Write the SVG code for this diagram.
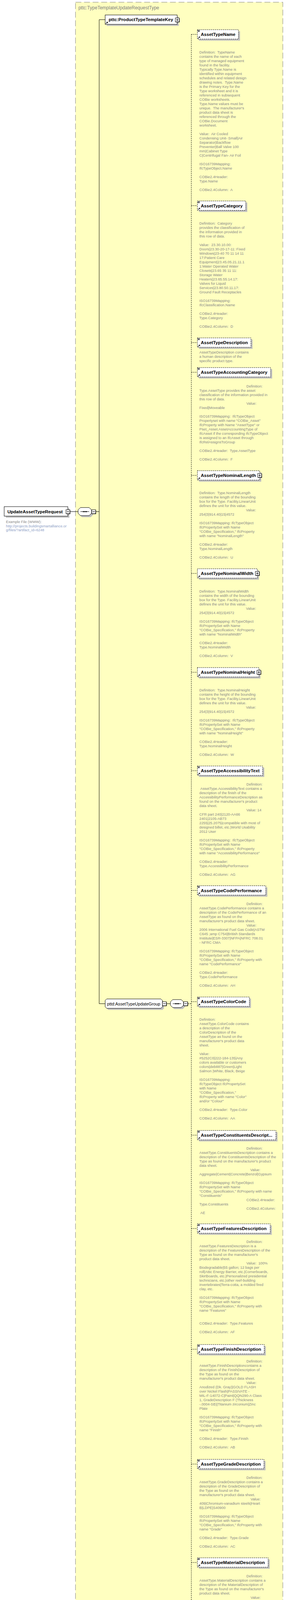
<svg xmlns="http://www.w3.org/2000/svg" width="735" height="5121" viewBox="0 0 735 5121">
<style>
.d{font-family:"Liberation Sans",Arial,sans-serif;font-size:9.25px;fill:#888;white-space:pre}
.u{fill:#8ea0c6}
.n{font-family:"Liberation Sans",Arial,sans-serif;font-size:11.5px;font-weight:bold;fill:#000;white-space:pre}
.g{font-family:"Liberation Sans",Arial,sans-serif;font-size:10.8px;fill:#000}
.t{font-family:"Liberation Sans",Arial,sans-serif;font-size:12px;fill:#808080}
.sh{fill:#c0c0c0}
.bx{fill:#fff;stroke:#000;stroke-width:1}
.bd{fill:#fff;stroke:#000;stroke-width:1;stroke-dasharray:3,2}
.ln{stroke:#000;stroke-width:1;fill:none}
.dl{stroke:#000;stroke-width:1;fill:none;stroke-dasharray:3,2}
</style>
<defs>
<g id="eq"><path d="M1,1.8H6M1,3.3H6M1,4.8H6" stroke="#000" stroke-width="0.9"/></g>
<g id="ar"><path d="M1.5,22.5L4.8,19.2" stroke="#000" stroke-width="1.1"/><path d="M3,17.8H6.8V21.6Z" fill="#000"/></g>
<g id="mn"><rect x="-4" y="-4" width="10" height="10" fill="#000"/><rect x="-5" y="-5" width="10" height="10" fill="#fff" stroke="#000"/><path d="M-3,0H3" stroke="#000" stroke-width="1.2"/></g>
<g id="pl"><rect x="-4" y="-4" width="10" height="10" fill="#000"/><rect x="-5" y="-5" width="10" height="10" fill="#fff" stroke="#000"/><path d="M-3,0H3M0,-3V3" stroke="#000" stroke-width="1.2"/></g>
</defs>

<rect x="193.3" y="5.7" width="531" height="5109.7" fill="#ffffc0" stroke="#808080" stroke-width="1" stroke-dasharray="15,7"/>
<text class="t" x="200.7" y="23.5">pttc:TypeTemplateUpdateRequestType</text>

<g id="connectors">
<path class="ln" d="M179,1309.7H200M245.7,1309.7H254M254,50.3V2569.5M254,50.3H269.3M254,2569.5H269.3M426,2569.5H436.3"/>
<path class="dl" d="M481,2569.5H490M490,88V5053"/>
<path class="dl" d="M490,88H505.5M490,526.5H505.5M490,877H505.5M490,953H505.5M490,1217H505.5M490,1468H505.5M490,1721H505.5M490,1973H505.5M490,2279.5H505.5M490,2564.3H505.5M490,2906H505.5M490,3145H505.5M490,3454H505.5M490,3748H505.5M490,4000H505.5M490,4264H505.5M490,4504H505.5M490,4757H505.5M490,5053H505.5"/>
</g>

<g id="root">
<rect class="sh" x="14.7" y="1301" width="163" height="24.3"/>
<rect class="bx" x="10.7" y="1297" width="163" height="24.3"/>
<use href="#mn" x="174" y="1310"/>
<text class="n" x="19" y="1313.6">UpdateAssetTypeRequest</text>
<text class="d"><tspan x="15.3" y="1339">Example File (WWW):</tspan><tspan class="u" x="15.3" y="1349.5">http://projects.buildingsmartalliance.or</tspan><tspan class="u" x="15.3" y="1360">g/files/?artifact_id=6248</tspan></text>
</g>

<g id="seq1">
<path class="sh" d="M210,1303.3H232.3L238.3,1309.3V1318L232.3,1324H210L204,1318V1309.3Z"/>
<path class="bx" d="M206,1299.3H228.3L234.3,1305.3V1314L228.3,1320H206L200,1314V1305.3Z"/>
<path class="ln" d="M206,1309.7H228.3"/>
<rect x="212.3" y="1308.5" width="2.6" height="2.6"/><rect x="216.1" y="1308.5" width="2.6" height="2.6"/><rect x="219.9" y="1308.5" width="2.6" height="2.6"/>
<use href="#mn" x="240" y="1310"/>
</g>

<g id="ProductTypeTemplateKey">
<rect class="sh" x="273.3" y="42.3" width="184.4" height="24"/>
<rect class="bx" x="269.3" y="38.3" width="184.4" height="24"/>
<use href="#ar" x="269.3" y="38.3"/>
<use href="#pl" x="454" y="51"/>
<text class="n" x="278.3" y="54.4">pttc:ProductTypeTemplateKey</text>
</g>

<g id="AssetTypeUpdateGroup">
<path class="sh" d="M277.3,2561.3H416L420,2565.3V2581.3L416,2585.3H277.3L273.3,2581.3V2565.3Z"/>
<path class="bx" d="M273.3,2557.3H412L416,2561.3V2577.3L412,2581.3H273.3L269.3,2577.3V2561.3Z"/>
<use href="#mn" x="421" y="2569.5"/>
<text class="g" x="274.3" y="2573.5">pttd:AssetTypeUpdateGroup</text>
</g>

<g id="seq2">
<path class="sh" d="M446.3,2563H468L474,2569V2577.3L468,2583.3H446.3L440.3,2577.3V2569Z"/>
<path class="bx" d="M442.3,2559H464L470,2565V2573.3L464,2579.3H442.3L436.3,2573.3V2565Z"/>
<path class="ln" d="M442.3,2569.5H464"/>
<rect x="448.2" y="2568.2" width="2.6" height="2.6"/><rect x="452" y="2568.2" width="2.6" height="2.6"/><rect x="455.8" y="2568.2" width="2.6" height="2.6"/>
<use href="#mn" x="475.5" y="2569.5"/>
</g>

<g id="AssetTypeName">
<rect class="sh" x="509.5" y="80" width="105.2" height="24"/>
<rect class="bd" x="505.5" y="76" width="105.2" height="24"/>
<use href="#eq" x="505.5" y="76"/><use href="#ar" x="505.5" y="76"/>
<text class="n" x="514.3" y="92.1">AssetTypeName</text>
<text class="d"><tspan x="510.5" y="137">Definition:  TypeName</tspan><tspan x="510.5" y="148">contains the name of each</tspan><tspan x="510.5" y="159">type of managed equipment</tspan><tspan x="510.5" y="170">found in the facility.</tspan><tspan x="510.5" y="181">Typically Type.Name is</tspan><tspan x="510.5" y="192">identified within equipment</tspan><tspan x="510.5" y="203">schedules and related design</tspan><tspan x="510.5" y="214">drawing notes.  Type.Name</tspan><tspan x="510.5" y="225">is the Primary Key for the</tspan><tspan x="510.5" y="236">Type worksheet and it is</tspan><tspan x="510.5" y="247">referenced in subsequent</tspan><tspan x="510.5" y="258">COBie worksheets.</tspan><tspan x="510.5" y="269">Type.Name values must be</tspan><tspan x="510.5" y="280">unique.  The manufacturer's</tspan><tspan x="510.5" y="291">product data sheet is</tspan><tspan x="510.5" y="302">referenced through the</tspan><tspan x="510.5" y="313">COBie.Document</tspan><tspan x="510.5" y="324">worksheet.</tspan><tspan x="510.5" y="346">Value:  Air Cooled</tspan><tspan x="510.5" y="357">Condensing Unit- Small|Air</tspan><tspan x="510.5" y="368">Separator|Backflow</tspan><tspan x="510.5" y="379">Preventer|Ball Valve 100</tspan><tspan x="510.5" y="390">mm|Cabinet Type</tspan><tspan x="510.5" y="401">C|Centrifugal Fan- Air Foil</tspan><tspan x="510.5" y="423">ISO16739Mapping:</tspan><tspan x="510.5" y="434">IfcTypeObject.Name</tspan><tspan x="510.5" y="456">COBie2.4Header:</tspan><tspan x="510.5" y="467">Type.Name</tspan><tspan x="510.5" y="489">COBie2.4Column:  A</tspan></text>
</g>

<g id="AssetTypeCategory">
<rect class="sh" x="509.5" y="518.5" width="123.8" height="24"/>
<rect class="bd" x="505.5" y="514.5" width="123.8" height="24"/>
<use href="#eq" x="505.5" y="514.5"/><use href="#ar" x="505.5" y="514.5"/>
<text class="n" x="514.3" y="530.6">AssetTypeCategory</text>
<text class="d"><tspan x="510.5" y="575.3">Definition:  Category</tspan><tspan x="510.5" y="586.3">provides the classification of</tspan><tspan x="510.5" y="597.3">the information provided in</tspan><tspan x="510.5" y="608.3">this row of data.</tspan><tspan x="510.5" y="630.3">Value:  23.30.10.00:</tspan><tspan x="510.5" y="641.3">Doors|23.30-20-17-11: Fixed</tspan><tspan x="510.5" y="652.3">Windows|23-40 70 11 14 11</tspan><tspan x="510.5" y="663.3">17:Patient Care</tspan><tspan x="510.5" y="674.3">Equipment|23.45.05.21.11.1</tspan><tspan x="510.5" y="685.3">1:Water Operated Water</tspan><tspan x="510.5" y="696.3">Closets|23.65 35 11 11:</tspan><tspan x="510.5" y="707.3">Storage Water</tspan><tspan x="510.5" y="718.3">Heaters|23.65.55.14.17:</tspan><tspan x="510.5" y="729.3">Valves for Liquid</tspan><tspan x="510.5" y="740.3">Services|23.80.50.11.17:</tspan><tspan x="510.5" y="751.3">Ground Fault Receptacles</tspan><tspan x="510.5" y="773.3">ISO16739Mapping:</tspan><tspan x="510.5" y="784.3">IfcClassification.Name</tspan><tspan x="510.5" y="806.3">COBie2.4Header:</tspan><tspan x="510.5" y="817.3">Type.Category</tspan><tspan x="510.5" y="839.3">COBie2.4Column:  D</tspan></text>
</g>

<g id="AssetTypeDescription">
<rect class="sh" x="509.5" y="869" width="137.2" height="24"/>
<rect class="bd" x="505.5" y="865" width="137.2" height="24"/>
<use href="#eq" x="505.5" y="865"/><use href="#ar" x="505.5" y="865"/>
<text class="n" x="514.3" y="881.1">AssetTypeDescription</text>
<text class="d"><tspan x="510.5" y="905.3">AssetTypeDescription contains</tspan><tspan x="510.5" y="916.3">a human description of the</tspan><tspan x="510.5" y="927.3">specific product type.</tspan></text>
</g>

<g id="AssetTypeAccountingCategory">
<rect class="sh" x="509.5" y="945" width="187.5" height="24"/>
<rect class="bd" x="505.5" y="941" width="187.5" height="24"/>
<use href="#eq" x="505.5" y="941"/><use href="#ar" x="505.5" y="941"/>
<text class="n" x="514.3" y="957.1">AssetTypeAccountingCategory</text>
<text class="d"><tspan x="631" y="992.3">Definition:</tspan><tspan x="510.5" y="1003.3">Type.AssetType provides the asset</tspan><tspan x="510.5" y="1014.3">classification of the information provided in</tspan><tspan x="510.5" y="1025.3">this row of data.</tspan><tspan x="631" y="1036.3">Value:</tspan><tspan x="510.5" y="1047.3">Fixed|Moveable</tspan><tspan x="510.5" y="1069.3">ISO16739Mapping:  IfcTypeObject</tspan><tspan x="510.5" y="1080.3">Propertyset with name "COBie_Asset"</tspan><tspan x="510.5" y="1091.3">IfcProperty with Name "AssetType" or</tspan><tspan x="510.5" y="1102.3">Pset_Asset.AssetAccountingType of</tspan><tspan x="510.5" y="1113.3">IfcAsset if the corresponding IfcTypeObject</tspan><tspan x="510.5" y="1124.3">is assigned to an IfcAsset through</tspan><tspan x="510.5" y="1135.3">IfcRelAssignsToGroup</tspan><tspan x="510.5" y="1157.3">COBie2.4Header:  Type.AssetType</tspan><tspan x="510.5" y="1179.3">COBie2.4Column:  F</tspan></text>
</g>

<g id="AssetTypeNominalLength">
<rect class="sh" x="509.5" y="1209" width="159.5" height="24"/>
<rect class="bd" x="505.5" y="1205" width="159.5" height="24"/>
<use href="#ar" x="505.5" y="1205"/><use href="#pl" x="665" y="1217"/>
<text class="n" x="514.3" y="1221.1">AssetTypeNominalLength</text>
<text class="d"><tspan x="510.5" y="1265.3">Definition:  Type.NominalLength</tspan><tspan x="510.5" y="1276.3">contains the length of the bounding</tspan><tspan x="510.5" y="1287.3">box for the Type. Facility.LinearUnit</tspan><tspan x="510.5" y="1298.3">defines the unit for this value.</tspan><tspan x="630" y="1309.3">Value:</tspan><tspan x="510.5" y="1320.3">254|3|914.40|15|4572</tspan><tspan x="510.5" y="1342.3">ISO16739Mapping: IfcTypeObject</tspan><tspan x="510.5" y="1353.3">IfcPropertySet with Name</tspan><tspan x="510.5" y="1364.3">"COBie_Specification," IfcProperty</tspan><tspan x="510.5" y="1375.3">with name "NominalLength"</tspan><tspan x="510.5" y="1397.3">COBie2.4Header:</tspan><tspan x="510.5" y="1408.3">Type.NominalLength</tspan><tspan x="510.5" y="1430.3">COBie2.4Column:  U</tspan></text>
</g>

<g id="AssetTypeNominalWidth">
<rect class="sh" x="509.5" y="1460" width="153.5" height="24"/>
<rect class="bd" x="505.5" y="1456" width="153.5" height="24"/>
<use href="#ar" x="505.5" y="1456"/><use href="#pl" x="659" y="1468"/>
<text class="n" x="514.3" y="1472.1">AssetTypeNominalWidth</text>
<text class="d"><tspan x="510.5" y="1516.8">Definition:  Type.NominalWidth</tspan><tspan x="510.5" y="1527.8">contains the width of the bounding</tspan><tspan x="510.5" y="1538.8">box for the Type. Facility.LinearUnit</tspan><tspan x="510.5" y="1549.8">defines the unit for this value.</tspan><tspan x="630" y="1560.8">Value:</tspan><tspan x="510.5" y="1571.8">254|3|914.40|15|4572</tspan><tspan x="510.5" y="1593.8">ISO16739Mapping: IfcTypeObject</tspan><tspan x="510.5" y="1604.8">IfcPropertySet with Name</tspan><tspan x="510.5" y="1615.8">"COBie_Specification," IfcProperty</tspan><tspan x="510.5" y="1626.8">with name "NominalWidth"</tspan><tspan x="510.5" y="1648.8">COBie2.4Header:</tspan><tspan x="510.5" y="1659.8">Type.NominalWidth</tspan><tspan x="510.5" y="1681.8">COBie2.4Column:  V</tspan></text>
</g>

<g id="AssetTypeNominalHeight">
<rect class="sh" x="509.5" y="1713" width="157.5" height="24"/>
<rect class="bd" x="505.5" y="1709" width="157.5" height="24"/>
<use href="#ar" x="505.5" y="1709"/><use href="#pl" x="663" y="1721"/>
<text class="n" x="514.3" y="1725.1">AssetTypeNominalHeight</text>
<text class="d"><tspan x="510.5" y="1769.8">Definition:  Type.NominalHeight</tspan><tspan x="510.5" y="1780.8">contains the height of the bounding</tspan><tspan x="510.5" y="1791.8">box for the Type. Facility.LinearUnit</tspan><tspan x="510.5" y="1802.8">defines the unit for this value.</tspan><tspan x="630" y="1813.8">Value:</tspan><tspan x="510.5" y="1824.8">254|3|914.40|15|4572</tspan><tspan x="510.5" y="1846.8">ISO16739Mapping:  IfcTypeObject</tspan><tspan x="510.5" y="1857.8">IfcPropertySet with Name</tspan><tspan x="510.5" y="1868.8">"COBie_Specification," IfcProperty</tspan><tspan x="510.5" y="1879.8">with name "NominalHeight"</tspan><tspan x="510.5" y="1901.8">COBie2.4Header:</tspan><tspan x="510.5" y="1912.8">Type.NominalHeight</tspan><tspan x="510.5" y="1934.8">COBie2.4Column:  W</tspan></text>
</g>

<g id="AssetTypeAccessibilityText">
<rect class="sh" x="509.5" y="1965" width="167.2" height="24"/>
<rect class="bd" x="505.5" y="1961" width="167.2" height="24"/>
<use href="#eq" x="505.5" y="1961"/><use href="#ar" x="505.5" y="1961"/>
<text class="n" x="514.3" y="1977.1">AssetTypeAccessibilityText</text>
<text class="d"><tspan x="631" y="2010.8">Definition:</tspan><tspan x="513" y="2021.8">AssetType.AccessibilityText contains a</tspan><tspan x="510.5" y="2032.8">description of the finish of the</tspan><tspan x="510.5" y="2043.8">AccessibilityPerformanceDescription as</tspan><tspan x="510.5" y="2054.8">found on the manufacturer's product</tspan><tspan x="510.5" y="2065.8">data sheet.</tspan><tspan x="631" y="2076.8">Value: 14</tspan><tspan x="510.5" y="2087.8">CFR part 240|2120-AA66</tspan><tspan x="510.5" y="2098.8">2401|2105-AB73</tspan><tspan x="510.5" y="2109.8">2255|25.2075|compatible with most of</tspan><tspan x="510.5" y="2120.8">designed billet, etc.|World Usability</tspan><tspan x="510.5" y="2131.8">2012 User</tspan><tspan x="510.5" y="2153.8">ISO16739Mapping:  IfcTypeObject</tspan><tspan x="510.5" y="2164.8">IfcPropertySet with Name</tspan><tspan x="510.5" y="2175.8">"COBie_Specification," IfcProperty</tspan><tspan x="510.5" y="2186.8">with name "AccessibilityPerformance"</tspan><tspan x="510.5" y="2208.8">COBie2.4Header:</tspan><tspan x="510.5" y="2219.8">Type.AccessibilityPerformance</tspan><tspan x="510.5" y="2241.8">COBie2.4Column:  AG</tspan></text>
</g>

<g id="AssetTypeCodePerformance">
<rect class="sh" x="509.5" y="2271.5" width="175.2" height="24"/>
<rect class="bd" x="505.5" y="2267.5" width="175.2" height="24"/>
<use href="#eq" x="505.5" y="2267.5"/><use href="#ar" x="505.5" y="2267.5"/>
<text class="n" x="514.3" y="2283.6">AssetTypeCodePerformance</text>
<text class="d"><tspan x="631" y="2316.8">Definition:</tspan><tspan x="510.5" y="2327.8">AssetType.CodePerformance contains a</tspan><tspan x="510.5" y="2338.8">description of the CodePerformance of an</tspan><tspan x="510.5" y="2349.8">AssetType as found on the</tspan><tspan x="510.5" y="2360.8">manufacturer's product data sheet.</tspan><tspan x="631" y="2371.8">Value:</tspan><tspan x="510.5" y="2382.8">2006 International Fuel Gas Code|ASTM</tspan><tspan x="510.5" y="2393.8">C645 ;amp C754|British Standards</tspan><tspan x="510.5" y="2404.8">Institute|ESR-3307|NFPA|NFRC 708.01</tspan><tspan x="510.5" y="2415.8">- NFRC CMA</tspan><tspan x="510.5" y="2437.8">ISO16739Mapping: IfcTypeObject</tspan><tspan x="510.5" y="2448.8">IfcPropertySet with Name</tspan><tspan x="510.5" y="2459.8">"COBie_Specification," IfcProperty with</tspan><tspan x="510.5" y="2470.8">name "CodePerformance"</tspan><tspan x="510.5" y="2492.8">COBie2.4Header:</tspan><tspan x="510.5" y="2503.8">Type.CodePerformance</tspan><tspan x="510.5" y="2525.8">COBie2.4Column:  AH</tspan></text>
</g>

<g id="AssetTypeColorCode">
<rect class="sh" x="509.5" y="2556.3" width="133.2" height="24"/>
<rect class="bd" x="505.5" y="2552.3" width="133.2" height="24"/>
<use href="#eq" x="505.5" y="2552.3"/><use href="#ar" x="505.5" y="2552.3"/>
<text class="n" x="514.3" y="2568.4">AssetTypeColorCode</text>
<text class="d"><tspan x="510.5" y="2612.8">Definition:</tspan><tspan x="510.5" y="2623.8">AssetType.ColorCode contains</tspan><tspan x="510.5" y="2634.8">a description of the</tspan><tspan x="510.5" y="2645.8">ColorDescription of the</tspan><tspan x="510.5" y="2656.8">AssetType as found on the</tspan><tspan x="510.5" y="2667.8">manufacturer's product data</tspan><tspan x="510.5" y="2678.8">sheet.</tspan><tspan x="510.5" y="2700.8">Value:</tspan><tspan x="510.5" y="2711.8">#5252C0|222-184-135|Any</tspan><tspan x="510.5" y="2722.8">colors available or customers</tspan><tspan x="510.5" y="2733.8">colors|deb887|Green|Light</tspan><tspan x="510.5" y="2744.8">Salmon |White, Black, Beige</tspan><tspan x="510.5" y="2766.8">ISO16739Mapping:</tspan><tspan x="510.5" y="2777.8">IfcTypeObject IfcPropertySet</tspan><tspan x="510.5" y="2788.8">with Name</tspan><tspan x="510.5" y="2799.8">"COBie_Specification,"</tspan><tspan x="510.5" y="2810.8">IfcProperty with name "Color"</tspan><tspan x="510.5" y="2821.8">and/or "Colour"</tspan><tspan x="510.5" y="2843.8">COBie2.4Header:  Type.Color</tspan><tspan x="510.5" y="2865.8">COBie2.4Column:  AA</tspan></text>
</g>

<g id="AssetTypeConstituentsDescription">
<rect class="sh" x="509.5" y="2898" width="201.2" height="24"/>
<rect class="bd" x="505.5" y="2894" width="201.2" height="24"/>
<use href="#eq" x="505.5" y="2894"/><use href="#ar" x="505.5" y="2894"/>
<text class="n" x="514.3" y="2910.1">AssetTypeConstituentsDescript...</text>
<text class="d"><tspan x="631" y="2943.3">Definition:</tspan><tspan x="510.5" y="2954.3">AssetType.ConstituentsDescription contains a</tspan><tspan x="510.5" y="2965.3">description of the ConstituentsDescription of the</tspan><tspan x="510.5" y="2976.3">Type as found on the manufacturer's product</tspan><tspan x="510.5" y="2987.3">data sheet.</tspan><tspan x="641" y="2998.3">Value:</tspan><tspan x="510.5" y="3009.3">Aggregate|Cement|Concrete|Benzol|Gypsum</tspan><tspan x="510.5" y="3031.3">ISO16739Mapping: IfcTypeObject</tspan><tspan x="510.5" y="3042.3">IfcPropertySet with Name</tspan><tspan x="510.5" y="3053.3">"COBie_Specification," IfcProperty with name</tspan><tspan x="510.5" y="3064.3">"Constituents"</tspan><tspan x="631" y="3075.3">COBie2.4Header:</tspan><tspan x="510.5" y="3086.3">Type.Constituents</tspan><tspan x="631" y="3097.3">COBie2.4Column:</tspan><tspan x="513" y="3108.3">AE</tspan></text>
</g>

<g id="AssetTypeFeaturesDescription">
<rect class="sh" x="509.5" y="3137" width="186.5" height="24"/>
<rect class="bd" x="505.5" y="3133" width="186.5" height="24"/>
<use href="#eq" x="505.5" y="3133"/><use href="#ar" x="505.5" y="3133"/>
<text class="n" x="514.3" y="3149.1">AssetTypeFeaturesDescription</text>
<text class="d"><tspan x="631" y="3182.3">Definition:</tspan><tspan x="510.5" y="3193.3">AssetType.FeaturesDescription is a</tspan><tspan x="510.5" y="3204.3">description of the FeaturesDescription of the</tspan><tspan x="510.5" y="3215.3">Type as found on the manufacturer's</tspan><tspan x="510.5" y="3226.3">product data sheet.</tspan><tspan x="631" y="3237.3">Value:  100%</tspan><tspan x="510.5" y="3248.3">Biodegradable|55 gallon; 12 bags per</tspan><tspan x="510.5" y="3259.3">roll|Attic Energy Barrier, etc.|Cornerboards,</tspan><tspan x="510.5" y="3270.3">Skirtboards, etc.|Personalized presidential</tspan><tspan x="510.5" y="3281.3">technicians, etc.|other reef-building</tspan><tspan x="510.5" y="3292.3">invertebrates|Terra-cotta, a molded fired</tspan><tspan x="510.5" y="3303.3">clay, etc.</tspan><tspan x="510.5" y="3325.3">ISO16739Mapping: IfcTypeObject</tspan><tspan x="510.5" y="3336.3">IfcPropertySet with Name</tspan><tspan x="510.5" y="3347.3">"COBie_Specification," IfcProperty with</tspan><tspan x="510.5" y="3358.3">name "Features"</tspan><tspan x="510.5" y="3391.3">COBie2.4Header:  Type.Features</tspan><tspan x="510.5" y="3413.3">COBie2.4Column:  AF</tspan></text>
</g>

<g id="AssetTypeFinishDescription">
<rect class="sh" x="509.5" y="3446" width="171.2" height="24"/>
<rect class="bd" x="505.5" y="3442" width="171.2" height="24"/>
<use href="#eq" x="505.5" y="3442"/><use href="#ar" x="505.5" y="3442"/>
<text class="n" x="514.3" y="3458.1">AssetTypeFinishDescription</text>
<text class="d"><tspan x="631" y="3488.3">Definition:</tspan><tspan x="510.5" y="3499.3">AssetType.FinishDescriptioncontains a</tspan><tspan x="510.5" y="3510.3">description of the FinishDescription of</tspan><tspan x="510.5" y="3521.3">the Type as found on the</tspan><tspan x="510.5" y="3532.3">manufacturer's product data sheet.</tspan><tspan x="631" y="3543.3">Value:</tspan><tspan x="510.5" y="3554.3">Anodized (Dk. Gray)|GOLD FLASH</tspan><tspan x="510.5" y="3565.3">over Nickel Flash|PASSIVATE -</tspan><tspan x="510.5" y="3576.3">MIL-F-14072-C|Paint|QQN290-A Class</tspan><tspan x="510.5" y="3587.3">1, GradeDescription F (Thickness</tspan><tspan x="510.5" y="3598.3">-.0004-SB)|Titanium zirconium|Zinc</tspan><tspan x="510.5" y="3609.3">Plate</tspan><tspan x="510.5" y="3631.3">ISO16739Mapping: IfcTypeObject</tspan><tspan x="510.5" y="3642.3">IfcPropertySet with Name</tspan><tspan x="510.5" y="3653.3">"COBie_Specification," IfcProperty with</tspan><tspan x="510.5" y="3664.3">name "Finish"</tspan><tspan x="510.5" y="3686.3">COBie2.4Header:  Type.Finish</tspan><tspan x="510.5" y="3708.3">COBie2.4Column:  AB</tspan></text>
</g>

<g id="AssetTypeGradeDescription">
<rect class="sh" x="509.5" y="3740" width="170.5" height="24"/>
<rect class="bd" x="505.5" y="3736" width="170.5" height="24"/>
<use href="#eq" x="505.5" y="3736"/><use href="#ar" x="505.5" y="3736"/>
<text class="n" x="514.3" y="3752.1">AssetTypeGradeDescription</text>
<text class="d"><tspan x="631" y="3786.3">Definition:</tspan><tspan x="510.5" y="3797.3">AssetType.GradeDescription contains a</tspan><tspan x="510.5" y="3808.3">description of the GradeDescription of</tspan><tspan x="510.5" y="3819.3">the Type as found on the</tspan><tspan x="510.5" y="3830.3">manufacturer's product data sheet.</tspan><tspan x="641.7" y="3841.3">Value:</tspan><tspan x="510.5" y="3852.3">409|Chromium-vanadium steels|Heart</tspan><tspan x="510.5" y="3863.3">B|LDPE|S40900</tspan><tspan x="510.5" y="3885.3">ISO16739Mapping: IfcTypeObject</tspan><tspan x="510.5" y="3896.3">IfcPropertySet with Name</tspan><tspan x="510.5" y="3907.3">"COBie_Specification," IfcProperty with</tspan><tspan x="510.5" y="3918.3">name "Grade"</tspan><tspan x="510.5" y="3940.3">COBie2.4Header:  Type.Grade</tspan><tspan x="510.5" y="3962.3">COBie2.4Column:  AC</tspan></text>
</g>

<g id="AssetTypeMaterialDescription">
<rect class="sh" x="509.5" y="3992" width="181.2" height="24"/>
<rect class="bd" x="505.5" y="3988" width="181.2" height="24"/>
<use href="#eq" x="505.5" y="3988"/><use href="#ar" x="505.5" y="3988"/>
<text class="n" x="514.3" y="4004.1">AssetTypeMaterialDescription</text>
<text class="d"><tspan x="631" y="4038.3">Definition:</tspan><tspan x="510.5" y="4049.3">AssetType.MaterialDescription contains a</tspan><tspan x="510.5" y="4060.3">description of the MaterialDescription of</tspan><tspan x="510.5" y="4071.3">the Type as found on the manufacturer's</tspan><tspan x="510.5" y="4082.3">product data sheet.</tspan><tspan x="641.7" y="4093.3">Value:</tspan><tspan x="510.5" y="4104.3">100% Polyester</tspan><tspan x="510.5" y="4115.3">|Bamboo|Fiberglass|Plywood|Water-Resis</tspan><tspan x="510.5" y="4126.3">tant Gypsum Backing Board</tspan><tspan x="510.5" y="4148.3">ISO16739Mapping:  IfcTypeObject</tspan><tspan x="510.5" y="4159.3">IfcPropertySet with Name</tspan><tspan x="510.5" y="4170.3">"COBie_Specification," IfcProperty with</tspan><tspan x="510.5" y="4181.3">name "Material"</tspan><tspan x="510.5" y="4203.3">COBie2.4Header:  Type.Material</tspan><tspan x="510.5" y="4225.3">COBie2.4Column:  AD</tspan></text>
</g>

<g id="AssetTypeShapeDescription">
<rect class="sh" x="509.5" y="4256" width="171.2" height="24"/>
<rect class="bd" x="505.5" y="4252" width="171.2" height="24"/>
<use href="#eq" x="505.5" y="4252"/><use href="#ar" x="505.5" y="4252"/>
<text class="n" x="514.3" y="4268.1">AssetTypeShapeDescription</text>
<text class="d"><tspan x="631" y="4301.3">Definition:</tspan><tspan x="510.5" y="4312.3">AssetType.ShapeDescription contains a</tspan><tspan x="510.5" y="4323.3">description of the ShapeDescription of</tspan><tspan x="510.5" y="4334.3">the Type as found on the</tspan><tspan x="510.5" y="4345.3">manufacturer's product data sheet.</tspan><tspan x="631" y="4356.3">Value:</tspan><tspan x="510.5" y="4367.3">Cube|Oblong|Round|Square</tspan><tspan x="510.5" y="4389.3">ISO16739Mapping:  IfcTypeObject</tspan><tspan x="510.5" y="4400.3">IfcPropertySet with Name</tspan><tspan x="510.5" y="4411.3">"COBie_Specification," IfcProperty with</tspan><tspan x="510.5" y="4422.3">name "Shape"</tspan><tspan x="510.5" y="4444.3">COBie2.4Header:  Type.Shape</tspan><tspan x="510.5" y="4466.3">COBie2.4Column:  Y</tspan></text>
</g>

<g id="AssetTypeSizeDescription">
<rect class="sh" x="509.5" y="4496" width="160.2" height="24"/>
<rect class="bd" x="505.5" y="4492" width="160.2" height="24"/>
<use href="#eq" x="505.5" y="4492"/><use href="#ar" x="505.5" y="4492"/>
<text class="n" x="514.3" y="4508.1">AssetTypeSizeDescription</text>
<text class="d"><tspan x="510.5" y="4552.3">Definition:</tspan><tspan x="510.5" y="4563.3">AssetType.SizeDescription contains a</tspan><tspan x="510.5" y="4574.3">description of the Size of the Type as</tspan><tspan x="510.5" y="4585.3">found on the manufacturer's product</tspan><tspan x="510.5" y="4596.3">data sheet.</tspan><tspan x="631" y="4607.3">Value:</tspan><tspan x="510.5" y="4618.3">Small|Medium|L|Large</tspan><tspan x="510.5" y="4640.3">ISO16739Mapping:  IfcTypeObject</tspan><tspan x="510.5" y="4651.3">IfcPropertySet with Name</tspan><tspan x="510.5" y="4662.3">"COBie_Specification," IfcProperty</tspan><tspan x="510.5" y="4673.3">with name "Size"</tspan><tspan x="510.5" y="4695.3">COBie2.4Header:  Type.Size</tspan><tspan x="510.5" y="4717.3">COBie2.4Column:  Z</tspan></text>
</g>

<g id="AssetTypeSustainabilityPerformance">
<rect class="sh" x="509.5" y="4749" width="201.5" height="24"/>
<rect class="bd" x="505.5" y="4745" width="201.5" height="24"/>
<use href="#eq" x="505.5" y="4745"/><use href="#ar" x="505.5" y="4745"/>
<text class="n" x="514.3" y="4761.1">AssetTypeSustainabilityPerfor...</text>
<text class="d"><tspan x="631" y="4793.8">Definition:</tspan><tspan x="510.5" y="4804.8">AssetType.SustainabilityPerformanceDescriptio</tspan><tspan x="510.5" y="4815.8">n contains a description of the</tspan><tspan x="510.5" y="4826.8">SustainabilityPerformanceDescription of the</tspan><tspan x="510.5" y="4837.8">Type as found on the manufacturer's product</tspan><tspan x="510.5" y="4848.8">data sheet.</tspan><tspan x="631" y="4859.8">Value:  3 GHG</tspan><tspan x="510.5" y="4870.8">emissions in absolute terms|CDPH</tspan><tspan x="510.5" y="4881.8">Standard|Electronic Product Environmental</tspan><tspan x="510.5" y="4892.8">Assessment Tool |Modified ASTM D 1037</tspan><tspan x="510.5" y="4903.8">Procedure|National Environmental Policy Act</tspan><tspan x="510.5" y="4914.8">1969|post-consumer 53%, pre-consumer 8%</tspan><tspan x="510.5" y="4936.8">ISO16739Mapping: IfcTypeObject</tspan><tspan x="510.5" y="4947.8">IfcPropertySet with Name</tspan><tspan x="510.5" y="4958.8">"COBie_Specification," IfcProperty with name</tspan><tspan x="510.5" y="4969.8">"SustainabilityPerformance"</tspan><tspan x="631" y="4980.8">COBie2.4Header:</tspan><tspan x="510.5" y="4991.8">Type.SustainabilityPerformance</tspan><tspan x="631" y="5002.8">COBie2.4Column:</tspan><tspan x="513" y="5013.8">AI</tspan></text>
</g>

<g id="AssetTypeAttributes">
<rect class="sh" x="509.5" y="5045" width="135.5" height="24"/>
<rect class="bd" x="505.5" y="5041" width="135.5" height="24"/>
<use href="#ar" x="505.5" y="5041"/><use href="#pl" x="641" y="5053"/>
<text class="n" x="514.3" y="5057.1">AssetTypeAttributes</text>
<text class="d"><tspan x="510.5" y="5079.3">A set of Attribute elements</tspan><tspan x="510.5" y="5090.3">associated with an AssetType</tspan><tspan x="510.5" y="5101.3">element.</tspan></text>
</g>
</svg>
